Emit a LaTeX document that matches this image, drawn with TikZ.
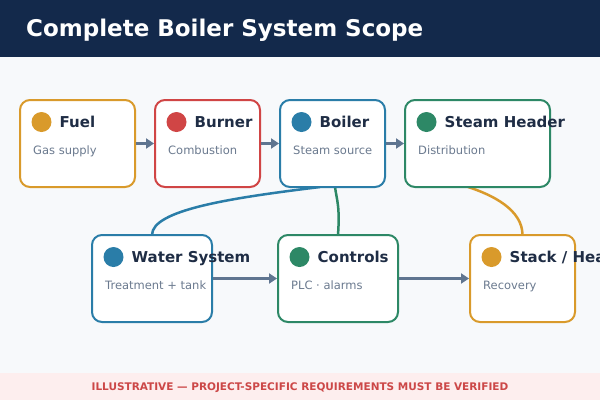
\documentclass[tikz,border=0pt]{standalone}
\usepackage{fontspec}
\setmainfont{DejaVu Sans}
\usetikzlibrary{arrows.meta,calc}
\definecolor{hdr}{HTML}{13294B}
\definecolor{bgc}{HTML}{F7F9FB}
\definecolor{ftbg}{HTML}{FDEEEE}
\definecolor{fttx}{HTML}{CC4747}
\definecolor{cgold}{HTML}{D99A2B}
\definecolor{cred}{HTML}{D04545}
\definecolor{cblue}{HTML}{2A7DA8}
\definecolor{cgreen}{HTML}{2D8866}
\definecolor{agray}{HTML}{5F7590}
\definecolor{ttx}{HTML}{1F2D45}
\definecolor{stx}{HTML}{6B7A8F}
\tikzset{
  box/.style={draw=#1, fill=white, line width=2pt, rounded corners=10pt, inner sep=0pt, minimum height=87pt},
  dot/.style={circle, fill=#1, inner sep=0pt, minimum size=20pt},
  ttl/.style={anchor=base west, inner sep=0pt, text=ttx, font=\bfseries\fontsize{15}{18}\selectfont},
  sub/.style={anchor=base west, inner sep=0pt, text=stx, font=\fontsize{11.5}{13}\selectfont},
  flow/.style={draw=agray, line width=2.5pt, -{Triangle[length=8pt,width=10pt]}},
  link/.style={draw=#1, line width=2.5pt}
}
\begin{document}
\begin{tikzpicture}[x=1pt,y=-1pt]
\useasboundingbox (0,0) rectangle (600,400);
\fill[bgc] (0,0) rectangle (600,400);
\fill[hdr] (0,0) rectangle (600,57);
\node[anchor=base west, inner sep=0pt, text=white, font=\bfseries\fontsize{23}{27}\selectfont] (title) at (26,36.5) {Complete Boiler System Scope};
\fill[ftbg] (0,373) rectangle (600,400);
\node[inner sep=0pt, text=fttx, font=\bfseries\fontsize{10.5}{12}\selectfont] (foot) at (300,388) {ILLUSTRATIVE — PROJECT-SPECIFIC REQUIREMENTS MUST BE VERIFIED};

% node anchors (for curves)
\coordinate (boilerS) at (332.5,187);
\coordinate (steamS) at (477.5,187);
\coordinate (waterN) at (152,235);
\coordinate (ctrlN) at (338,235);
\coordinate (stackN) at (522.5,235);
\coordinate (bEndA) at ($(boilerS)+(-12.5,0)$);
\coordinate (bEndB) at ($(boilerS)+(2.5,0)$);
\coordinate (sEnd) at ($(steamS)+(-9.5,0)$);

\draw[link=cblue] (waterN) .. controls +(0,-25) and +(-90,11) .. (bEndA);
\draw[link=cgreen] (ctrlN) .. controls +(2,-28) and +(2,14) .. (bEndB);
\draw[link=cgold] (stackN) .. controls +(0,-25) and +(25,8) .. (sEnd);

% boxes
\node[box=cgold, minimum width=115pt] (fuel) at (77.5,143.5) {};
\node[box=cred, minimum width=105pt] (burner) at (207.5,143.5) {};
\node[box=cblue, minimum width=105pt] (boiler) at (332.5,143.5) {};
\node[box=cgreen, minimum width=145pt] (steam) at (477.5,143.5) {};
\node[box=cblue, minimum width=120pt] (water) at (152,278.5) {};
\node[box=cgreen, minimum width=120pt] (controls) at (338,278.5) {};
\node[box=cgold, minimum width=105pt] (stack) at (522.5,278.5) {};

% contents
\node[dot=cgold] (fuelD) at ($(fuel.north west)+(22.5,23)$) {};
\node[ttl] (fuelT) at ($(fuel.north west)+(40.5,28.5)$) {Fuel};
\node[sub] (fuelS) at ($(fuel.north west)+(14,55)$) {Gas supply};

\node[dot=cred] (burnerD) at ($(burner.north west)+(22.5,23)$) {};
\node[ttl] (burnerT) at ($(burner.north west)+(40.5,28.5)$) {Burner};
\node[sub] (burnerS) at ($(burner.north west)+(14,55)$) {Combustion};

\node[dot=cblue] (boilerD) at ($(boiler.north west)+(22.5,23)$) {};
\node[ttl] (boilerT) at ($(boiler.north west)+(40.5,28.5)$) {Boiler};
\node[sub] (boilerS2) at ($(boiler.north west)+(14,55)$) {Steam source};

\node[dot=cgreen] (steamD) at ($(steam.north west)+(22.5,23)$) {};
\node[ttl] (steamT) at ($(steam.north west)+(40.5,28.5)$) {Steam Header};
\node[sub] (steamS2) at ($(steam.north west)+(14,55)$) {Distribution};

\node[dot=cblue] (waterD) at ($(water.north west)+(22.5,23)$) {};
\node[ttl] (waterT) at ($(water.north west)+(40.5,28.5)$) {Water System};
\node[sub] (waterS) at ($(water.north west)+(14,55)$) {Treatment + tank};

\node[dot=cgreen] (controlsD) at ($(controls.north west)+(22.5,23)$) {};
\node[ttl] (controlsT) at ($(controls.north west)+(40.5,28.5)$) {Controls};
\node[sub] (controlsS) at ($(controls.north west)+(14,55)$) {PLC · alarms};

\node[dot=cgold] (stackD) at ($(stack.north west)+(22.5,23)$) {};
\node[ttl] (stackT) at ($(stack.north west)+(40.5,28.5)$) {Stack / Heat};
\node[sub] (stackS) at ($(stack.north west)+(14,55)$) {Recovery};

% arrows
\draw[flow] (fuel.east) -- (burner.west);
\draw[flow] (burner.east) -- (boiler.west);
\draw[flow] (boiler.east) -- (steam.west);
\draw[flow] (water.east) -- (controls.west);
\draw[flow] (controls.east) -- (stack.west);
\end{tikzpicture}
\end{document}
